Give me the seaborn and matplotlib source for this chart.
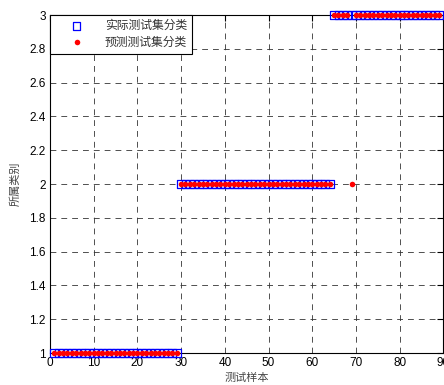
import matplotlib
matplotlib.use("Agg")
import matplotlib.pyplot as plt
import seaborn as sns
import numpy as np
import pandas as pd

# test samples 1..89, actual vs predicted class
actual_counts = [29, 35, 25]          # class 1, 2, 3
class_ids = [1, 2, 3]
wrong_sample = [69]                   # misclassified sample
wrong_pred = [2]

actual = np.repeat(class_ids, actual_counts)
samples = np.arange(1, len(actual) + 1)
predicted = actual.copy()
for s, p in zip(wrong_sample, wrong_pred):
    predicted[s - 1] = p

df = pd.DataFrame({"sample": samples, "actual": actual, "predicted": predicted})

sns.set_style("white")
plt.rcParams['font.family'] = ['Liberation Sans', 'Noto Sans CJK SC']
plt.rcParams['axes.unicode_minus'] = False

fig = plt.figure(figsize=(4.44, 3.85), dpi=100)
ax = fig.add_axes([0.1126, 0.083, 0.886, 0.878])

sns.scatterplot(data=df, x="sample", y="actual", marker="s", s=32,
                facecolor="none", edgecolor="blue", linewidth=0.9,
                label="实际测试集分类", ax=ax, zorder=3, clip_on=False)
sns.scatterplot(data=df, x="sample", y="predicted", marker="o", s=16,
                color="red", edgecolor="red", linewidth=0,
                label="预测测试集分类", ax=ax, zorder=4, clip_on=False)

ax.set_xlim(0, 90)
ax.set_ylim(1, 3)
yt = np.round(np.arange(1, 3.01, 0.2), 1)
ax.set_xticks(np.arange(0, 91, 10))
ax.set_yticks(yt)
ax.set_yticklabels([f"{v:g}" for v in yt])
ax.tick_params(direction="in", length=4, labelsize=8.5, colors="black",
               top=True, right=True, pad=3)
ax.grid(True, linestyle=(0, (7, 6)), color="#333333", linewidth=0.6)
for sp in ax.spines.values():
    sp.set_color("black")
    sp.set_linewidth(0.8)

ax.set_xlabel("测试样本", fontsize=8, color="#444444", labelpad=3)
ax.set_ylabel("所属类别", fontsize=8, color="#444444", labelpad=6)

leg = ax.legend(loc="upper left", fontsize=8.5, frameon=True, fancybox=False,
                edgecolor="black", borderaxespad=0, handletextpad=0.6,
                borderpad=0.45, labelspacing=0.35, handlelength=3.6)
leg.get_frame().set_linewidth(0.8)
leg.get_frame().set_alpha(1)
for t in leg.get_texts():
    t.set_color("#333333")

fig.savefig("out.png", dpi=100)
